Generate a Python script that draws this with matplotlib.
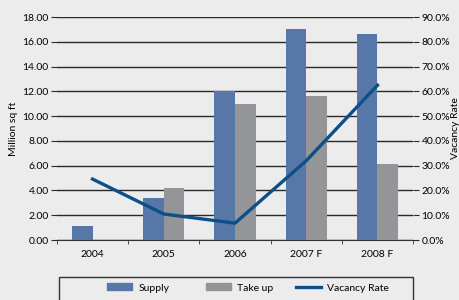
import numpy as np
import matplotlib.pyplot as plt
from matplotlib.patches import Patch, Rectangle
from matplotlib.lines import Line2D

# -----------------------------
# Data
# -----------------------------
years = ["2004", "2005", "2006", "2007 F", "2008 F"]
supply = [1.1, 3.4, 12.0, 17.05, 16.6]
take_up = [0.0, 4.2, 11.0, 11.65, 6.15]
vacancy = [24.6, 10.5, 6.8, 32.0, 62.5]

left_ticks = np.arange(0, 19, 2)
right_ticks = np.arange(0, 91, 10)

bg = "#ececec"
c_supply = "#5877a9"
c_take = "#939598"
c_line = "#0d4f88"

plt.rcParams["font.family"] = ["Lato", "DejaVu Sans"]
plt.rcParams["font.size"] = 7.5

W, H = 459, 300
fig = plt.figure(figsize=(W / 100, H / 100), dpi=100, facecolor=bg)
ax = fig.add_axes([0.124, 0.2, 0.776, 0.743], facecolor=bg)

x = np.arange(len(years))
w = 0.29
ax.bar(x - w / 2, supply, w, color=c_supply, zorder=3)
ax.bar(x + w / 2, take_up, w, color=c_take, zorder=3)

ax.set_xlim(-0.5, len(years) - 0.5)
ax.set_ylim(0, 18)
ax.set_yticks(left_ticks)
ax.set_yticklabels([f"{v:.2f}" for v in left_ticks])
ax.yaxis.grid(True, color="#2a2a2a", linewidth=1.0, zorder=0)
ax.set_axisbelow(True)
ax.set_xticks(x)
ax.set_xticklabels(years)
ax.set_xticks(np.arange(-0.5, len(years), 1), minor=True)
ax.tick_params(axis="x", which="major", length=0, pad=7)
ax.tick_params(axis="x", which="minor", length=3, color="#333333")
ax.tick_params(axis="y", length=4, color="#2a2a2a", pad=2)
for s in ["top", "left", "right"]:
    ax.spines[s].set_visible(False)
ax.spines["bottom"].set_color("#333333")
ax.set_ylabel("Million sq ft", labelpad=3)

ax2 = ax.twinx()
ax2.plot(x, vacancy, color=c_line, linewidth=2.4, zorder=4)
ax2.set_ylim(0, 90)
ax2.set_yticks(right_ticks)
ax2.set_yticklabels([f"{v:.1f}%" for v in right_ticks])
ax2.tick_params(axis="y", length=4, color="#2a2a2a", pad=2)
for s in ax2.spines.values():
    s.set_visible(False)
ax2.set_ylabel("Vacancy Rate", rotation=90, labelpad=1)

# legend frame (box runs off the bottom edge)
fig.patches.append(Rectangle((59 / W, -0.02), (413 - 59) / W, 0.02 + (300 - 277) / H,
                             transform=fig.transFigure, facecolor=bg,
                             edgecolor="#333333", linewidth=1.0))

handles = [
    Patch(color=c_supply, label="Supply"),
    Patch(color=c_take, label="Take up"),
    Line2D([0], [0], color=c_line, linewidth=2.4, label="Vacancy Rate"),
]
starts = [107, 206, 296]
for h, xs in zip(handles, starts):
    fig.legend(handles=[h], loc="center left", bbox_to_anchor=(xs / W, 1 - 288 / H),
               frameon=False, handlelength=2.4, handleheight=0.65,
               handletextpad=0.6, borderpad=0, borderaxespad=0)

fig.savefig("out.png", dpi=100, facecolor=bg)
